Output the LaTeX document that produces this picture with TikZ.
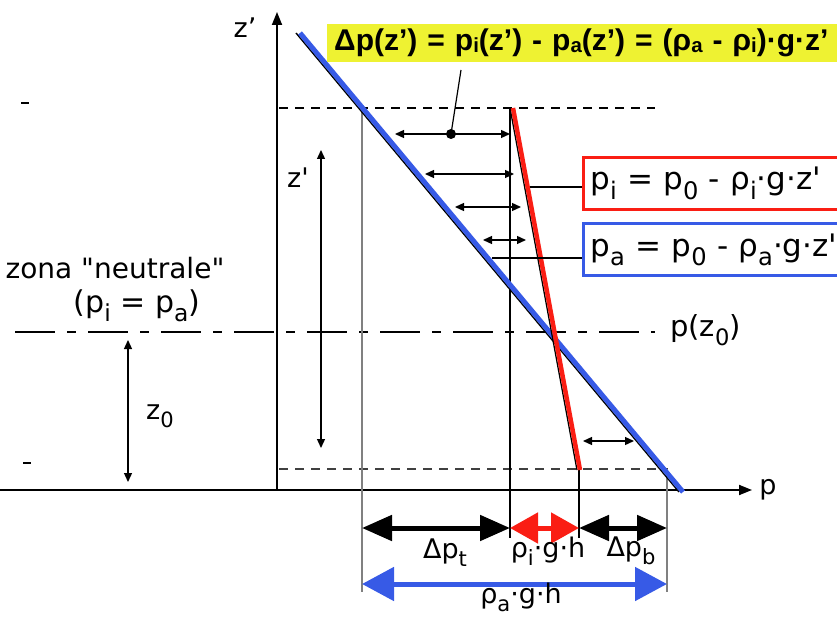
\documentclass[tikz,border=0pt]{standalone}
\usepackage{fontspec}
\setmainfont{DejaVu Sans}
\newfontfamily\arialf{Liberation Sans}
\usetikzlibrary{arrows.meta}
\definecolor{myblue}{RGB}{55,90,230}
\definecolor{myred}{RGB}{250,30,20}
\definecolor{myyellow}{RGB}{238,242,50}
\newcommand{\lo}[1]{\raisebox{-0.3em}{\scalebox{0.78}{#1}}}
\newcommand{\los}[1]{\raisebox{-0.06em}{\scalebox{0.68}{#1}}}
\newcommand{\sq}{\textquotesingle}
\begin{document}
\begin{tikzpicture}[x=1pt,y=-1pt,
  txt/.style={font=\fontsize{27}{30}\selectfont, inner sep=0pt},
  bigtxt/.style={font=\fontsize{30}{33}\selectfont, inner sep=0pt},
  axisline/.style={line width=1.8pt, -{Triangle[length=13pt,width=10pt]}},
  dashline/.style={line width=1.6pt, dash pattern=on 9pt off 7pt},
  neutral/.style={line width=1.3pt, dash pattern=on 40pt off 12pt on 9pt off 12pt},
  extline/.style={line width=1.1pt, gray},
  extblack/.style={line width=1.1pt, black},
  thinarr/.style={line width=1.3pt, {Triangle[length=9pt,width=8pt]}-{Triangle[length=9pt,width=8pt]}},
  blackarr/.style={line width=5pt, {Triangle[length=30pt,width=25pt]}-{Triangle[length=30pt,width=25pt]}},
  redarr/.style={myred, line width=5pt, {Triangle[length=28pt,width=30pt]}-{Triangle[length=28pt,width=30pt]}},
  bluearr/.style={myblue, line width=5pt, {Triangle[length=32pt,width=33pt]}-{Triangle[length=32pt,width=33pt]}},
  formbox/.style={font=\fontsize{31}{34}\selectfont, inner sep=0pt, line width=3pt, minimum height=52pt, text width=250pt, inner xsep=7pt, anchor=west},
  leader/.style={line width=1.2pt},
  tick/.style={line width=1.6pt}
]
\useasboundingbox (0,0) rectangle (837,617);

% axes
\coordinate (O) at (277,490);
\coordinate (Ztop) at (277,12);
\coordinate (Pstart) at (0,490);
\coordinate (Pend) at (752,490);
\draw[axisline] (O) -- (Ztop);
\draw[axisline] (Pstart) -- (Pend);
\node[txt] (zlab) at (245,28) {z’};
\node[txt] (plab) at (768,490) {p};

% dashed levels
\coordinate (T1) at (279,108);
\coordinate (T2) at (655,108);
\coordinate (B1) at (279,469);
\coordinate (B2) at (668,469);
\draw[dashline] (T1) -- (T2);
\draw[dashline, black!75] (B1) -- (B2);
\coordinate (k1a) at (21,103); \coordinate (k1b) at (29,103);
\coordinate (k2a) at (23,463); \coordinate (k2b) at (31,463);
\draw[tick] (k1a) -- (k1b);
\draw[tick] (k2a) -- (k2b);

% neutral line
\node[inner sep=0pt, font=\fontsize{29}{32}\selectfont, anchor=west] (pz0) at (670,330) {p(z\lo{0})};
\coordinate (N1) at (15,332);
\coordinate (N2) at (655,332);
\draw[neutral] (N1) -- (N2);

% extension lines
\coordinate (V1t) at (362,108); \coordinate (V1b) at (362,592);
\coordinate (V2t) at (510,108); \coordinate (V2b) at (510,538);
\coordinate (V3t) at (579,470); \coordinate (V3b) at (579,538);
\coordinate (V4t) at (667,469); \coordinate (V4b) at (667,592);
\draw[extline] (V1t) -- (V1b);
\draw[extblack] (V2t) -- (V2b);
\draw[extblack] (V3t) -- (V3b);
\draw[extline] (V4t) -- (V4b);

% pressure lines
\coordinate (BL1) at (300,33);
\coordinate (BL2) at (683,492);
\coordinate (RL1) at (513,108);
\coordinate (RL2) at (580,470);
\draw[line width=1.4pt] ([xshift=-4pt]BL1) -- ([xshift=-4pt]BL2);
\draw[myblue, line width=5pt] (BL1) -- (BL2);
\draw[line width=1.3pt] ([xshift=-3pt]RL1) -- ([xshift=-3pt]RL2);
\draw[myred, line width=4.5pt] (RL1) -- (RL2);

% difference arrows
\coordinate (A1l) at (395,134); \coordinate (A1r) at (510,134);
\coordinate (A2l) at (425,174); \coordinate (A2r) at (514,174);
\coordinate (A3l) at (455,207); \coordinate (A3r) at (521,207);
\coordinate (A4l) at (483,240); \coordinate (A4r) at (526,240);
\coordinate (A5l) at (583,441); \coordinate (A5r) at (634,441);
\draw[thinarr] (A1l) -- (A1r);
\draw[thinarr] (A2l) -- (A2r);
\draw[thinarr] (A3l) -- (A3r);
\draw[thinarr] (A4l) -- (A4r);
\draw[thinarr] (A5l) -- (A5r);

% yellow formula
\node[inner sep=0pt, inner xsep=7pt, font=\arialf\bfseries\fontsize{30}{33}\selectfont, fill=myyellow, anchor=west, minimum height=38pt, text width=520pt] (dp) at (327,43)
  {Δp(z’) = p\los{i}(z’) - p\los{a}(z’) = (ρ\los{a} - ρ\los{i})·g·z’};
\node[circle, fill=black, inner sep=0pt, minimum size=10pt] (dot) at (451,134) {};
\coordinate (leadtop) at (461,70);
\draw[leader] (dot.center) -- (leadtop);

% formula boxes
\node[formbox, draw=myred] (pibox) at (582,183.5) {p\lo{i} = p\lo{0} - ρ\lo{i}·g·z\sq};
\node[formbox, draw=myblue] (pabox) at (582,250) {p\lo{a} = p\lo{0} - ρ\lo{a}·g·z\sq};
\coordinate (LR) at (530,187);
\coordinate (LB) at (492,258);
\draw[leader] (LR) -- (LR -| pibox.west);
\draw[leader] (LB) -- (LB -| pabox.west);

% z' and z0 arrows
\coordinate (ZA1) at (321,150); \coordinate (ZA2) at (321,448);
\draw[thinarr] (ZA1) -- (ZA2);
\node[txt] (zplab) at (298,178) {z\sq};
\coordinate (Z0a) at (128,340); \coordinate (Z0b) at (128,482);
\draw[thinarr] (Z0a) -- (Z0b);
\node[txt] (z0lab) at (160,416) {z\lo{0}};

% neutral zone label
\node[txt, font=\fontsize{28}{31}\selectfont] (zona) at (115,268) {zona \textquotedbl neutrale\textquotedbl};
\node[bigtxt] (pipa) at (137,306) {(p\lo{i} = p\lo{a})};

% bottom arrows
\coordinate (D1) at (362,528); \coordinate (D2) at (510,528);
\coordinate (D3) at (579,528); \coordinate (D4) at (667,528);
\coordinate (E1) at (362,584); \coordinate (E2) at (667,584);
\draw[blackarr] (D1) -- (D2);
\draw[redarr] (D2) -- (D3);
\draw[blackarr] (D3) -- (D4);
\draw[bluearr] (E1) -- (E2);
\node[txt] (dpt) at (445,553) {Δp\lo{t}};
\node[txt] (rig) at (548,551) {ρ\lo{i}·g·h};
\node[txt] (dpb) at (631,551) {Δp\lo{b}};
\node[txt] (rag) at (521,597) {ρ\lo{a}·g·h};
\end{tikzpicture}
\end{document}
